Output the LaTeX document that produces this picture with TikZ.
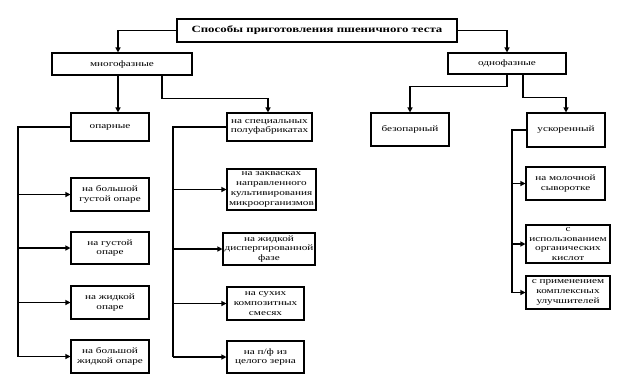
\documentclass[tikz,border=0pt]{standalone}
\usepackage{fontspec}
\setmainfont{Liberation Serif}[FakeStretch=1.35]
\usetikzlibrary{arrows.meta}
\begin{document}
\begin{tikzpicture}[x=1pt,y=-1pt,
  box/.style={draw, line width=1.1pt, inner sep=0pt, align=center,
    font=\fontsize{8.3}{9.8}\selectfont},
  conn/.style={line width=1.2pt},
  arr/.style={conn, -{Triangle[length=5pt,width=5pt]}}]
\fill[white] (0,0) rectangle (624,384);
\useasboundingbox (0,0) rectangle (624,384);
% boxes
\node[box, minimum width=280, minimum height=23, font=\fontsize{9.5}{11}\selectfont\bfseries] (title) at (317,30.5) {Способы приготовления пшеничного теста};
\node[box, minimum width=140, minimum height=22] (mnogo) at (122,64) {многофазные};
\node[box, minimum width=118, minimum height=21] (odno) at (507,63.5) {однофазные};
\node[box, minimum width=78, minimum height=28] (opar) at (110,127) {опарные};
\node[box, minimum width=85, minimum height=28] (spec) at (269.5,127) {на специальных\\полуфабрикатах};
\node[box, minimum width=78, minimum height=33] (bezop) at (410,129.5) {безопарный};
\node[box, minimum width=78, minimum height=34] (uskor) at (566,130) {ускоренный};
\node[box, minimum width=78, minimum height=33] (L1) at (110,194.5) {на большой\\густой опаре};
\node[box, minimum width=78, minimum height=32] (L2) at (110,248) {на густой\\опаре};
\node[box, minimum width=78, minimum height=33] (L3) at (110,302.5) {на жидкой\\опаре};
\node[box, minimum width=78, minimum height=33] (L4) at (110,356.5) {на большой\\жидкой опаре};
\node[box, minimum width=89, minimum height=41] (M1) at (271.5,189.5) {на заквасках\\направленного\\культивирования\\микроорганизмов};
\node[box, minimum width=92, minimum height=32] (M2) at (269,249) {на жидкой\\диспергированной\\фазе};
\node[box, minimum width=77, minimum height=33] (M3) at (265.5,303.5) {на сухих\\композитных\\смесях};
\node[box, minimum width=77, minimum height=32] (M4) at (265.5,357) {на п/ф из\\целого зерна};
\node[box, minimum width=79, minimum height=33] (R1) at (565.5,183.5) {на молочной\\сыворотке};
\node[box, minimum width=84, minimum height=38] (R2) at (568,244) {с\\использованием\\органических\\кислот};
\node[box, minimum width=84, minimum height=33] (R3) at (568,292.5) {с применением\\комплексных\\улучшителей};
% trunk coordinates
\coordinate (tl) at (18,0);
\coordinate (tm) at (173,0);
\coordinate (tr) at (512,0);
% top connectors
\draw[arr] (title.west) -| ([xshift=-4]mnogo.north);
\draw[arr] (title.east) -| (odno.north);
\draw[arr] ([xshift=-4]mnogo.south) -- ([xshift=8]opar.north);
\draw[arr] ([xshift=40]mnogo.south) -- ++(0,23) -| ([xshift=-1.5]spec.north);
\draw[arr] (odno.south) -- ++(0,12) -| (bezop.north);
\draw[arr] ([xshift=16]odno.south) -- ++(0,23) -| (uskor.north);
% left trunk
\draw[conn] (opar.west) -- (opar.west -| tl) -- (L4.west -| tl);
\foreach \n in {L1,L2,L3,L4} \draw[arr] (\n.west -| tl) -- (\n.west);
% middle trunk
\draw[conn] (spec.west) -- (spec.west -| tm) -- (M4.west -| tm);
\foreach \n in {M1,M2,M3,M4} \draw[arr] (\n.west -| tm) -- (\n.west);
% right trunk
\draw[conn] (uskor.west) -- (uskor.west -| tr) -- (R3.west -| tr);
\foreach \n in {R1,R2,R3} \draw[arr] (\n.west -| tr) -- (\n.west);
\end{tikzpicture}
\end{document}
